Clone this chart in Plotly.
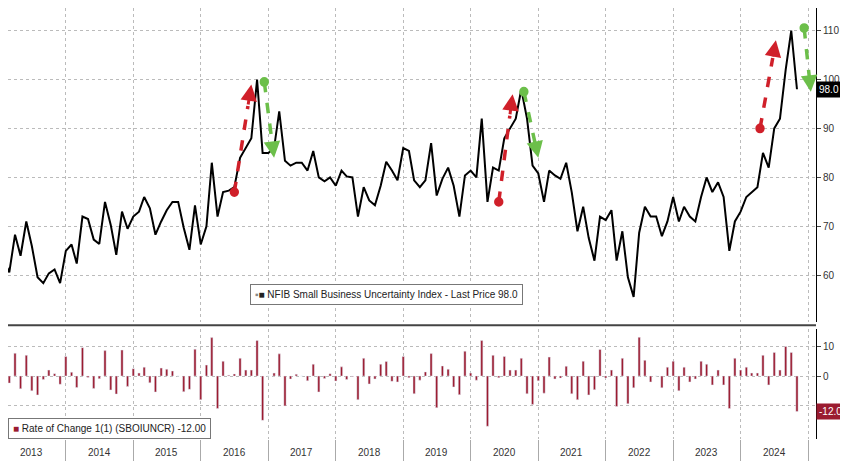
import plotly.graph_objects as go
from plotly.subplots import make_subplots
import pandas as pd
import numpy as np

# NFIB Small Business Uncertainty Index, monthly, ending Nov 2024
index_values = [
    63, 60.6, 68.3, 64, 71, 66, 59.6, 58.4, 60.4, 61.2, 58.4, 65, 66.3, 62.4, 72, 71.5,
    67.3, 66.4, 75, 70.3, 64.2, 73, 69.5, 72, 73, 76, 73.7, 68.3, 71, 73.3, 75, 75,
    69.7, 65.2, 74.3, 66.3, 70, 83, 72, 77, 77.3, 78, 84, 86, 88, 100, 85, 85, 86, 93.5,
    83.4, 82.4, 83, 83, 81.4, 85.4, 80, 79.2, 80, 78.3, 81.4, 80.2, 80, 72, 78, 75.3,
    74.3, 78.3, 83.2, 81.4, 79.4, 86, 85.4, 79.4, 78, 79.4, 87, 76.3, 79.7, 82, 78.3, 72,
    80.4, 81.4, 80, 92, 75, 82, 81.4, 88, 90, 92, 98, 92, 82.4, 80.8, 75, 81.4, 80.4, 79.7,
    83, 77, 69, 74, 67.6, 63, 72, 71.3, 73.3, 63, 69, 59.6, 55.6, 68.7, 74, 72, 72, 68,
    71, 76, 71, 74, 72, 71, 76, 80, 77, 79, 76, 65, 71, 73, 76, 77, 78, 85, 82, 90, 92,
    102, 110, 98,
]
dates = pd.date_range(end="2024-11-01", periods=len(index_values), freq="MS")
# Rate of change 1(1): month-over-month change of the index
roc_values = np.diff(np.array(index_values), prepend=np.nan)
years = list(range(2013, 2025))

# arrows: (start date, start value, end date, end value)
red_arrows = [("2016-07-01", 77, "2016-10-01", 99),
              ("2020-06-01", 75, "2020-08-15", 97),
              ("2024-04-15", 90, "2024-07-10", 108)]
green_arrows = [("2016-12-10", 99.5, "2017-02-01", 84),
                ("2020-10-15", 97.5, "2021-01-01", 84),
                ("2024-12-10", 110.5, "2025-01-15", 97.5)]

fig = make_subplots(rows=2, cols=1, shared_xaxes=True, vertical_spacing=0.016,
                    row_heights=[0.74, 0.26])

fig.add_trace(go.Scatter(x=dates, y=index_values, mode="lines",
                         line=dict(color="black", width=2)), row=1, col=1)
fig.add_trace(go.Bar(x=dates, y=roc_values, marker_color="#9b1b30", width=1000*3600*24*12),
              row=2, col=1)

def draw_arrows(arrows, color):
    for x0, y0, x1, y1 in arrows:
        t0, t1 = pd.Timestamp(x0), pd.Timestamp(x1)
        tm = t0 + (t1 - t0) * 0.8
        ym = y0 + (y1 - y0) * 0.8
        fig.add_shape(type="line", x0=x0, y0=y0, x1=tm, y1=ym, xref="x", yref="y",
                      line=dict(color=color, width=3.5, dash="dash"))
        fig.add_shape(type="circle", x0=t0 - pd.Timedelta(days=20), x1=t0 + pd.Timedelta(days=20),
                      y0=y0 - 0.8, y1=y0 + 0.8, xref="x", yref="y",
                      fillcolor=color, line=dict(color=color))
        fig.add_annotation(x=x1, y=y1, ax=tm, ay=ym, axref="x", ayref="y", xref="x", yref="y",
                           showarrow=True, arrowhead=2, arrowsize=1.1, arrowwidth=3,
                           arrowcolor=color, text="")

draw_arrows(red_arrows, "#d0202a")
draw_arrows(green_arrows, "#6cbf4a")

grid = dict(showgrid=True, gridcolor="#bbbbbb", griddash="dot", gridwidth=1)
fig.update_xaxes(range=["2013-02-22", "2025-02-12"], dtick="M12", tick0="2013-01-01",
                 showticklabels=False, showline=False, zeroline=False, **grid)
fig.update_xaxes(ticks="outside", ticklen=28, tickcolor="#aaaaaa", row=2, col=1)

# year labels centred in each year
for yr in years:
    fig.add_annotation(x=f"{yr}-07-01", y=0, xref="x2", yref="paper", yanchor="top", yshift=-6,
                       text=str(yr), showarrow=False,
                       font=dict(size=10, color="#333333", family="Liberation Sans"))

fig.update_yaxes(side="right", showline=True, linecolor="black", linewidth=1,
                 ticks="outside", ticklen=4, zeroline=False,
                 tickfont=dict(size=10, color="#333333", family="Liberation Sans"), **grid)
fig.update_yaxes(range=[50.5, 114.6], tickvals=[60, 70, 80, 90, 100, 110], row=1, col=1)
fig.update_yaxes(range=[-21.3, 16], tickvals=[-10, 0, 10], ticktext=["", "0", "10"], row=2, col=1)

# last value tags
fig.add_annotation(x=1.0, y=98, xref="paper", yref="y", xanchor="left", text="98.0",
                   showarrow=False, bgcolor="black", font=dict(color="white", size=10),
                   borderpad=2)
fig.add_annotation(x=1.0, y=-12, xref="paper", yref="y2", xanchor="left", text="-12.00",
                   showarrow=False, bgcolor="#9b1b30", font=dict(color="white", size=10),
                   borderpad=2)

# legends
fig.add_annotation(x=0.3, y=0.31, xref="paper", yref="paper", xanchor="left", yanchor="bottom",
                   text="<span style='color:#888'>▪</span>■ NFIB Small Business Uncertainty Index - Last Price 98.0",
                   showarrow=False, bgcolor="white", bordercolor="#777", borderwidth=1,
                   borderpad=4, font=dict(size=10, color="#222"))
fig.add_annotation(x=0.0, y=0.0, xref="paper", yref="paper", xanchor="left", yanchor="bottom",
                   text="<span style='color:#9b1b30'>■</span> Rate of Change 1(1) (SBOIUNCR) -12.00",
                   showarrow=False, bgcolor="white", bordercolor="#777", borderwidth=1,
                   borderpad=4, font=dict(size=10, color="#222"))

# separator between panels
fig.add_shape(type="line", x0=0, x1=1, y0=0.264, y1=0.264, xref="paper", yref="paper",
              line=dict(color="#444", width=2))

fig.update_layout(width=848, height=461, margin=dict(l=0, r=40, t=0, b=30),
                  plot_bgcolor="white", paper_bgcolor="white", showlegend=False,
                  bargap=0.3, font=dict(family="Liberation Sans"))

fig.write_html("out.html")
